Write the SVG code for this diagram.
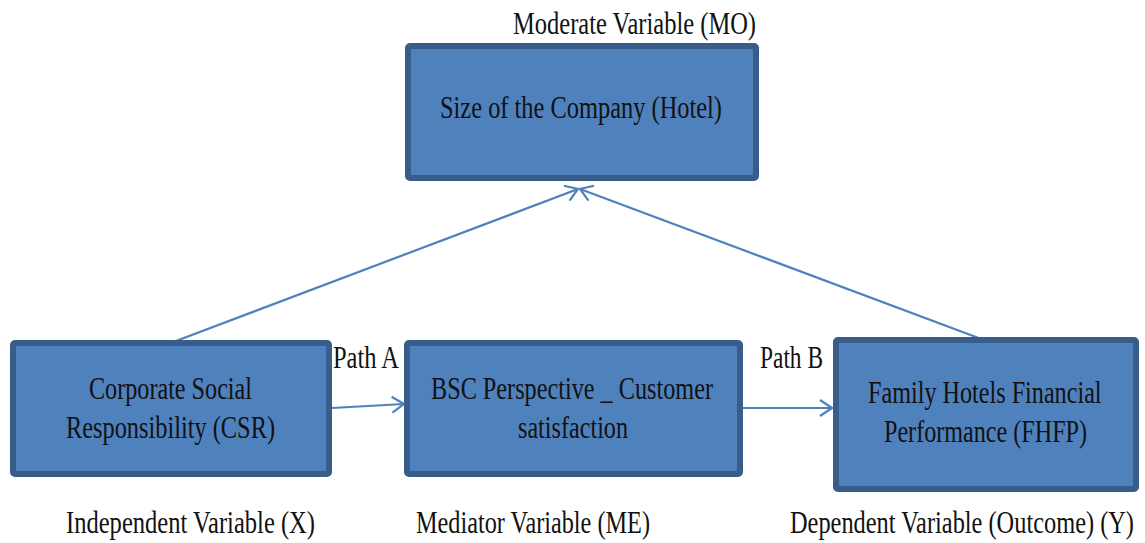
<svg xmlns="http://www.w3.org/2000/svg" width="1145" height="543" viewBox="0 0 1145 543">
  <style>
    .box { fill: #4F81BD; stroke: #385D8A; stroke-width: 6; }
    .t { font-family: "Liberation Serif", "DejaVu Serif", serif; font-size: 31px; fill: #111; }
    .link { fill: none; stroke: #4F81BD; stroke-width: 2.2; marker-end: url(#open); }
  </style>
  <defs>
    <marker id="open" viewBox="0 0 14 18" refX="13" refY="9" markerWidth="14" markerHeight="18" markerUnits="userSpaceOnUse" orient="auto">
      <path d="M1,1 L13,9 L1,17" fill="none" stroke="#4F81BD" stroke-width="2.2"/>
    </marker>
  </defs>
  <rect width="1145" height="543" fill="#fff"/>

  <g id="connectors">
    <line class="link" x1="168" y1="344" x2="578" y2="189"/>
    <line class="link" x1="1000" y1="346" x2="580" y2="189"/>
    <line class="link" x1="332" y1="408" x2="404" y2="404"/>
    <line class="link" x1="743" y1="408" x2="832" y2="408"/>
  </g>

  <g id="node-mo">
    <rect class="box" x="408" y="46" width="348" height="132" rx="2"/>
    <text class="t" x="513" y="34" textLength="243" lengthAdjust="spacingAndGlyphs">Moderate Variable (MO)</text>
    <text class="t" x="440" y="118" textLength="282" lengthAdjust="spacingAndGlyphs">Size of the Company (Hotel)</text>
  </g>

  <g id="node-csr">
    <rect class="box" x="13" y="343" width="316" height="131" rx="2"/>
    <text class="t" x="89" y="399" textLength="163" lengthAdjust="spacingAndGlyphs">Corporate Social</text>
    <text class="t" x="66" y="438" textLength="209" lengthAdjust="spacingAndGlyphs">Responsibility (CSR)</text>
    <text class="t" x="66" y="533" textLength="249" lengthAdjust="spacingAndGlyphs">Independent Variable (X)</text>
  </g>

  <g id="node-bsc">
    <rect class="box" x="407" y="343" width="333" height="131" rx="2"/>
    <text class="t" x="431" y="399" textLength="282" lengthAdjust="spacingAndGlyphs">BSC Perspective _ Customer</text>
    <text class="t" x="518" y="438" textLength="110" lengthAdjust="spacingAndGlyphs">satisfaction</text>
    <text class="t" x="416" y="533" textLength="234" lengthAdjust="spacingAndGlyphs">Mediator Variable (ME)</text>
  </g>

  <g id="node-fhfp">
    <rect class="box" x="836" y="340" width="300" height="149" rx="2"/>
    <!-- narrowed horizontally so the condensed lines keep inside the frame -->
    <text class="t" transform="scale(0.8,1)" x="1085" y="403" textLength="292" lengthAdjust="spacingAndGlyphs">Family Hotels Financial</text>
    <text class="t" x="884" y="442" textLength="203" lengthAdjust="spacingAndGlyphs">Performance (FHFP)</text>
    <text class="t" transform="scale(0.8,1)" x="987.5" y="533" textLength="430" lengthAdjust="spacingAndGlyphs">Dependent Variable (Outcome) (Y)</text>
  </g>

  <g id="labels">
    <text class="t" x="333" y="368" textLength="66" lengthAdjust="spacingAndGlyphs">Path A</text>
    <text class="t" x="760" y="368" textLength="63" lengthAdjust="spacingAndGlyphs">Path B</text>
  </g>
</svg>
